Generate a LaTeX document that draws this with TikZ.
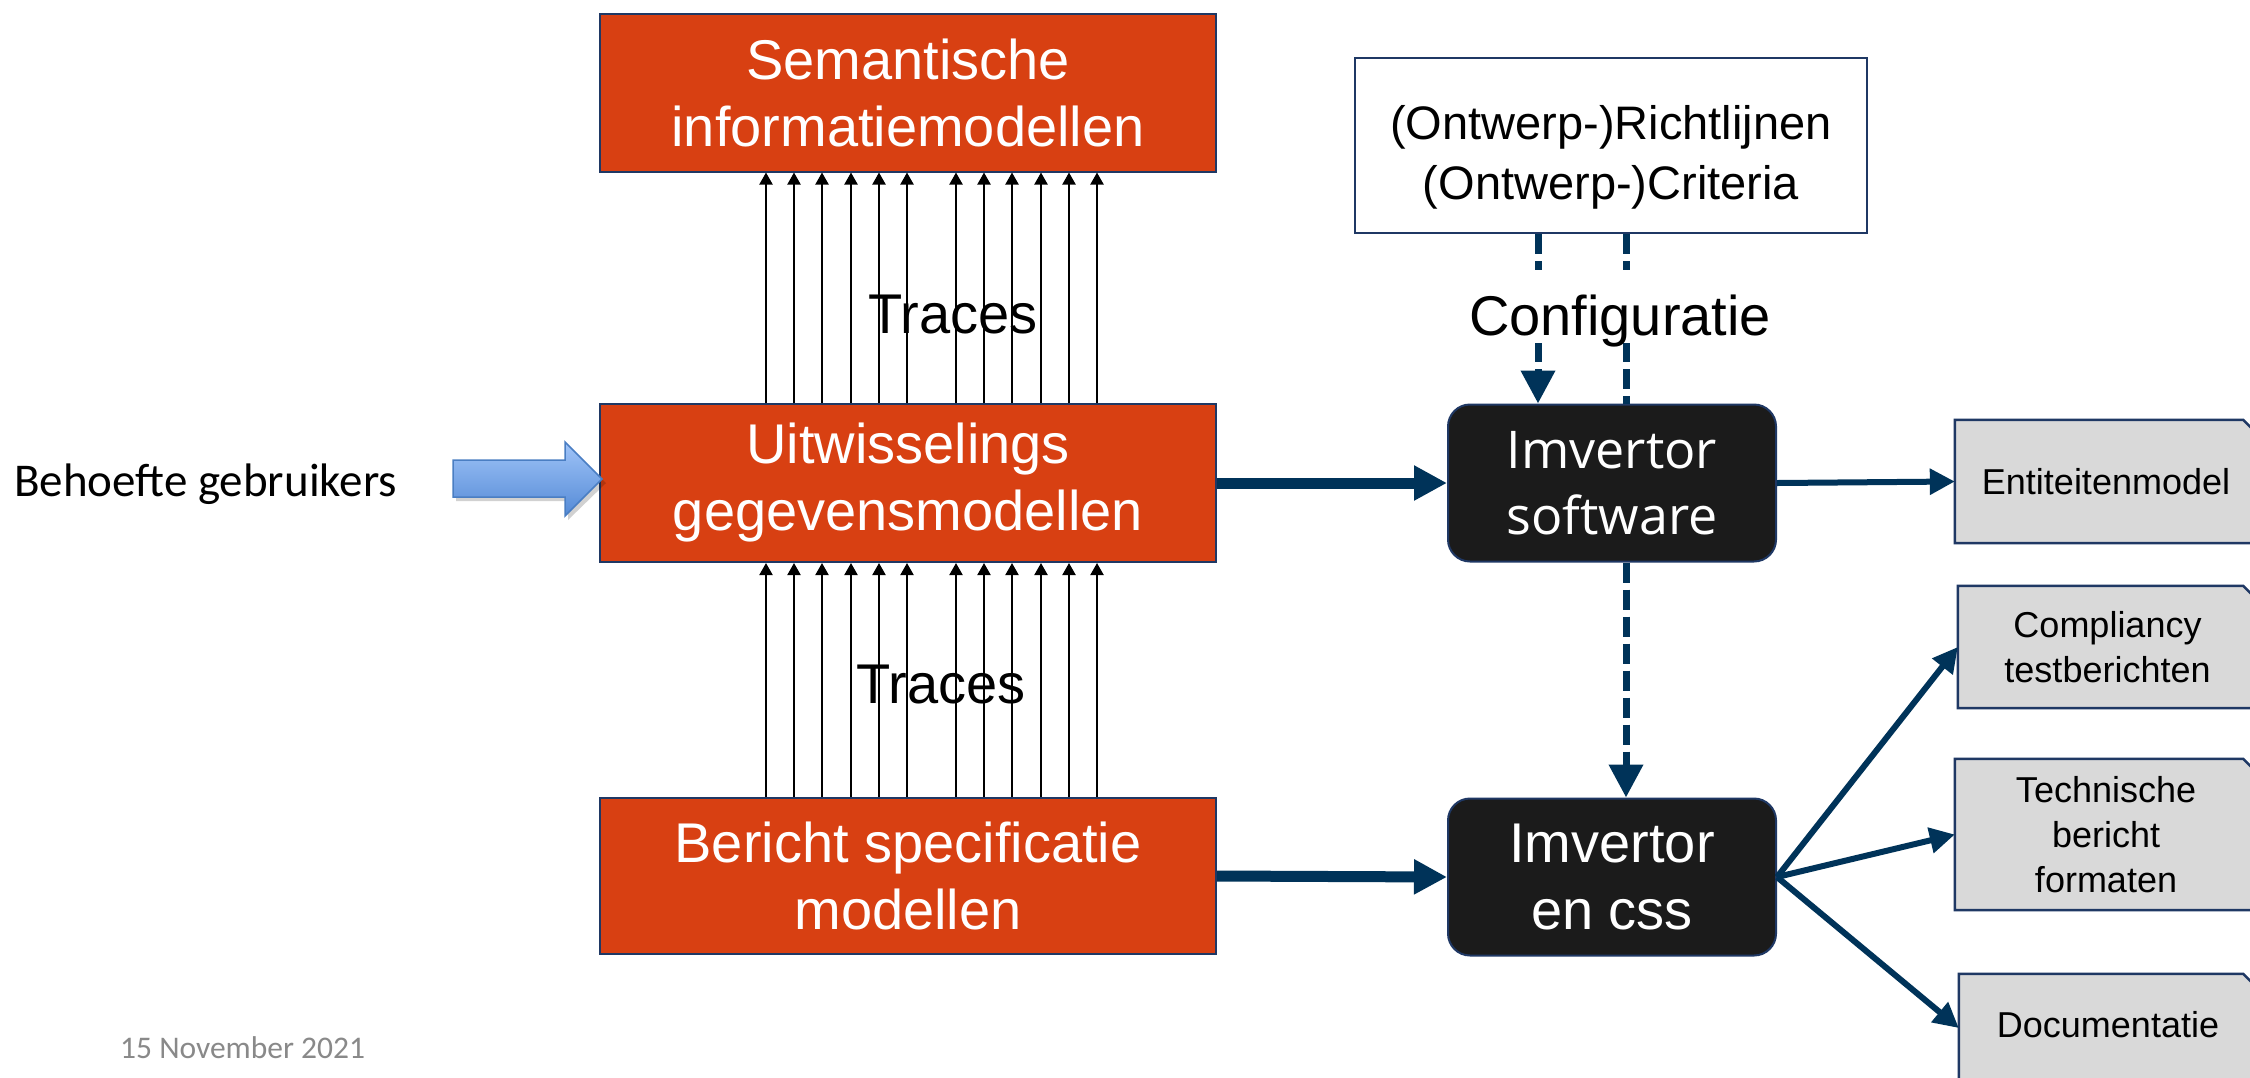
\documentclass[tikz,border=0pt]{standalone}
\usepackage{fontspec}
\setmainfont{Liberation Sans}
\newfontfamily\calibri{Carlito}
\newfontfamily\opensans{Open Sans}
\usetikzlibrary{arrows.meta}
\definecolor{orng}{RGB}{216,64,18}
\definecolor{navy}{RGB}{0,51,89}
\definecolor{bord}{RGB}{31,56,100}
\definecolor{blk}{RGB}{27,27,27}
\definecolor{gry}{RGB}{217,217,217}
\definecolor{datec}{RGB}{137,137,137}
\definecolor{bluetop}{RGB}{160,196,248}
\definecolor{bluebot}{RGB}{84,138,214}
\definecolor{blueedge}{RGB}{74,126,195}
\pgfdeclarelayer{bgzero}
\pgfdeclarelayer{bgone}
\pgfsetlayers{bgzero,bgone,main}
\begin{document}
\begin{tikzpicture}[x=1pt,y=-1pt,
  obox/.style={draw=bord, line width=2pt, fill=orng, text=white, align=center,
    font=\fontsize{56pt}{67pt}\selectfont, inner sep=0pt, minimum width=616pt},
  ibox/.style={draw=bord, line width=2pt, fill=blk, text=white, align=center,
    rounded corners=22pt, inner sep=0pt, minimum width=328pt, minimum height=157pt},
  gbox/.style={align=center, font=\fontsize{36pt}{45pt}\selectfont, inner sep=0pt},
  trace/.style={black, line width=2pt, -{Triangle[length=12pt,width=13pt]}},
  navyarrow/.style={draw=navy, line width=11pt, -{Triangle[length=33pt,width=33pt]}},
  outarrow/.style={draw=navy, line width=6pt, -{Triangle[length=25pt,width=25pt]}},
  dasharrow/.style={draw=navy, line width=7pt, dash pattern=on 20pt off 7pt,
    -{Triangle[length=33pt,width=33pt]}},
  dashline/.style={draw=navy, line width=7pt, dash pattern=on 20pt off 7pt},
  lbl/.style={font=\fontsize{56pt}{67pt}\selectfont, inner sep=0pt},
  chamf/.style={fill=gry, draw=bord, line width=2.5pt}
]
\useasboundingbox (0,0) rectangle (2250,1077);
\begin{pgfonlayer}{bgzero}
\fill[white] (0,0) rectangle (2250,1077);
\end{pgfonlayer}

% orange model boxes
\node[obox, minimum height=158pt] (sem) at (908,92.5) {Semantische\\informatiemodellen};
\node[obox, minimum height=158pt] (uit) at (908,483) {Uitwisselings\\gegevensmodellen};
\node[obox, minimum height=156pt] (ber) at (908,876) {Bericht specificatie\\modellen};

% configuration box
\node[draw=bord, line width=2.5pt, fill=white, minimum width=512pt, minimum height=175pt,
  inner sep=0pt] (cfg) at (1611,145.5) {};
\node[align=center, font=\fontsize{47pt}{60pt}\selectfont, inner sep=0pt]
  (cfgt) at (1611,157) {(Ontwerp-)Richtlijnen\\(Ontwerp-)Criteria};

% imvertor boxes
\node[ibox, font=\opensans\fontsize{52pt}{66pt}\selectfont] (sw) at (1612,483) {Imvertor\\software};
\node[ibox, font=\fontsize{56pt}{67pt}\selectfont] (css) at (1612,877) {Imvertor\\en css};

% output boxes
\node[gbox, minimum width=302pt, minimum height=123pt] (ent) at (2106,481.5) {Entiteitenmodel};
\node[gbox, minimum width=299pt, minimum height=122pt] (comp) at (2107.5,647) {Compliancy\\testberichten};
\node[gbox, minimum width=302pt, minimum height=151pt] (tech) at (2106,834.5) {Technische\\bericht\\formaten};
\node[gbox, minimum width=298pt, minimum height=124pt, text height=20pt, text depth=18pt]
  (doc) at (2108,1036) {Documentatie};
\begin{pgfonlayer}{bgone}
\foreach \n in {ent,comp,tech,doc}
  \draw[chamf] (\n.south west) -- (\n.north west) -- ([xshift=-14pt]\n.north east)
    -- ([yshift=-14pt]\n.north east) -- (\n.south east) -- cycle;
\end{pgfonlayer}

% traces labels
\node[lbl, anchor=base] (tr1) at (953,333) {Traces};
\node[lbl, anchor=base] (tr2) at (941,703) {Traces};

% trace arrows
\foreach \x in {766,794,822,851,879,907,956,984,1012,1041,1069,1097} {
  \draw[trace] (\x,0 |- uit.north) -- (\x,0 |- sem.south);
  \draw[trace] (\x,0 |- ber.north) -- (\x,0 |- uit.south);
}

% main flow arrows
\draw[navyarrow] (uit.east) -- (sw.west);
\draw[navyarrow] (ber.east) -- (css.west);
\draw[outarrow] (sw.east) -- (ent.west);
\draw[outarrow] (css.east) -- (comp.west);
\draw[outarrow] (css.east) -- (tech.west);
\draw[outarrow] (css.east) -- ([yshift=8pt]doc.west);

% configuration dashed lines
\coordinate (lx) at (1538,0);
\coordinate (rx) at (1626,0);
\draw[dasharrow] (cfg.south -| lx) -- (sw.north -| lx);
\draw[dashline] (cfg.south -| rx) -- (sw.north -| rx);
\draw[dasharrow] (sw.south -| rx) -- (css.north -| rx);
\node[lbl, fill=white, text height=65pt, text depth=8pt, inner xsep=6pt, anchor=base]
  (conf) at (1620,335) {Configuratie};

% user needs block arrow
\fill[black, opacity=0.18] (456,464) -- (568,464) -- (568,446) -- (606,483) -- (568,520) -- (568,501) -- (456,501) -- cycle;
\shade[top color=bluetop, bottom color=bluebot, draw=blueedge, line width=1.5pt]
  (453,460) -- (565,460) -- (565,442) -- (602,479) -- (565,516) -- (565,497) -- (453,497) -- cycle;
\node[font=\calibri\fontsize{47pt}{56pt}\selectfont, anchor=base west, inner sep=0pt]
  (beh) at (14,496) {Behoefte gebruikers};

% date
\node[font=\calibri\fontsize{31.5pt}{38pt}\selectfont, text=datec, anchor=base west, inner sep=0pt]
  (date) at (120,1058) {15 November 2021};
\end{tikzpicture}
\end{document}
